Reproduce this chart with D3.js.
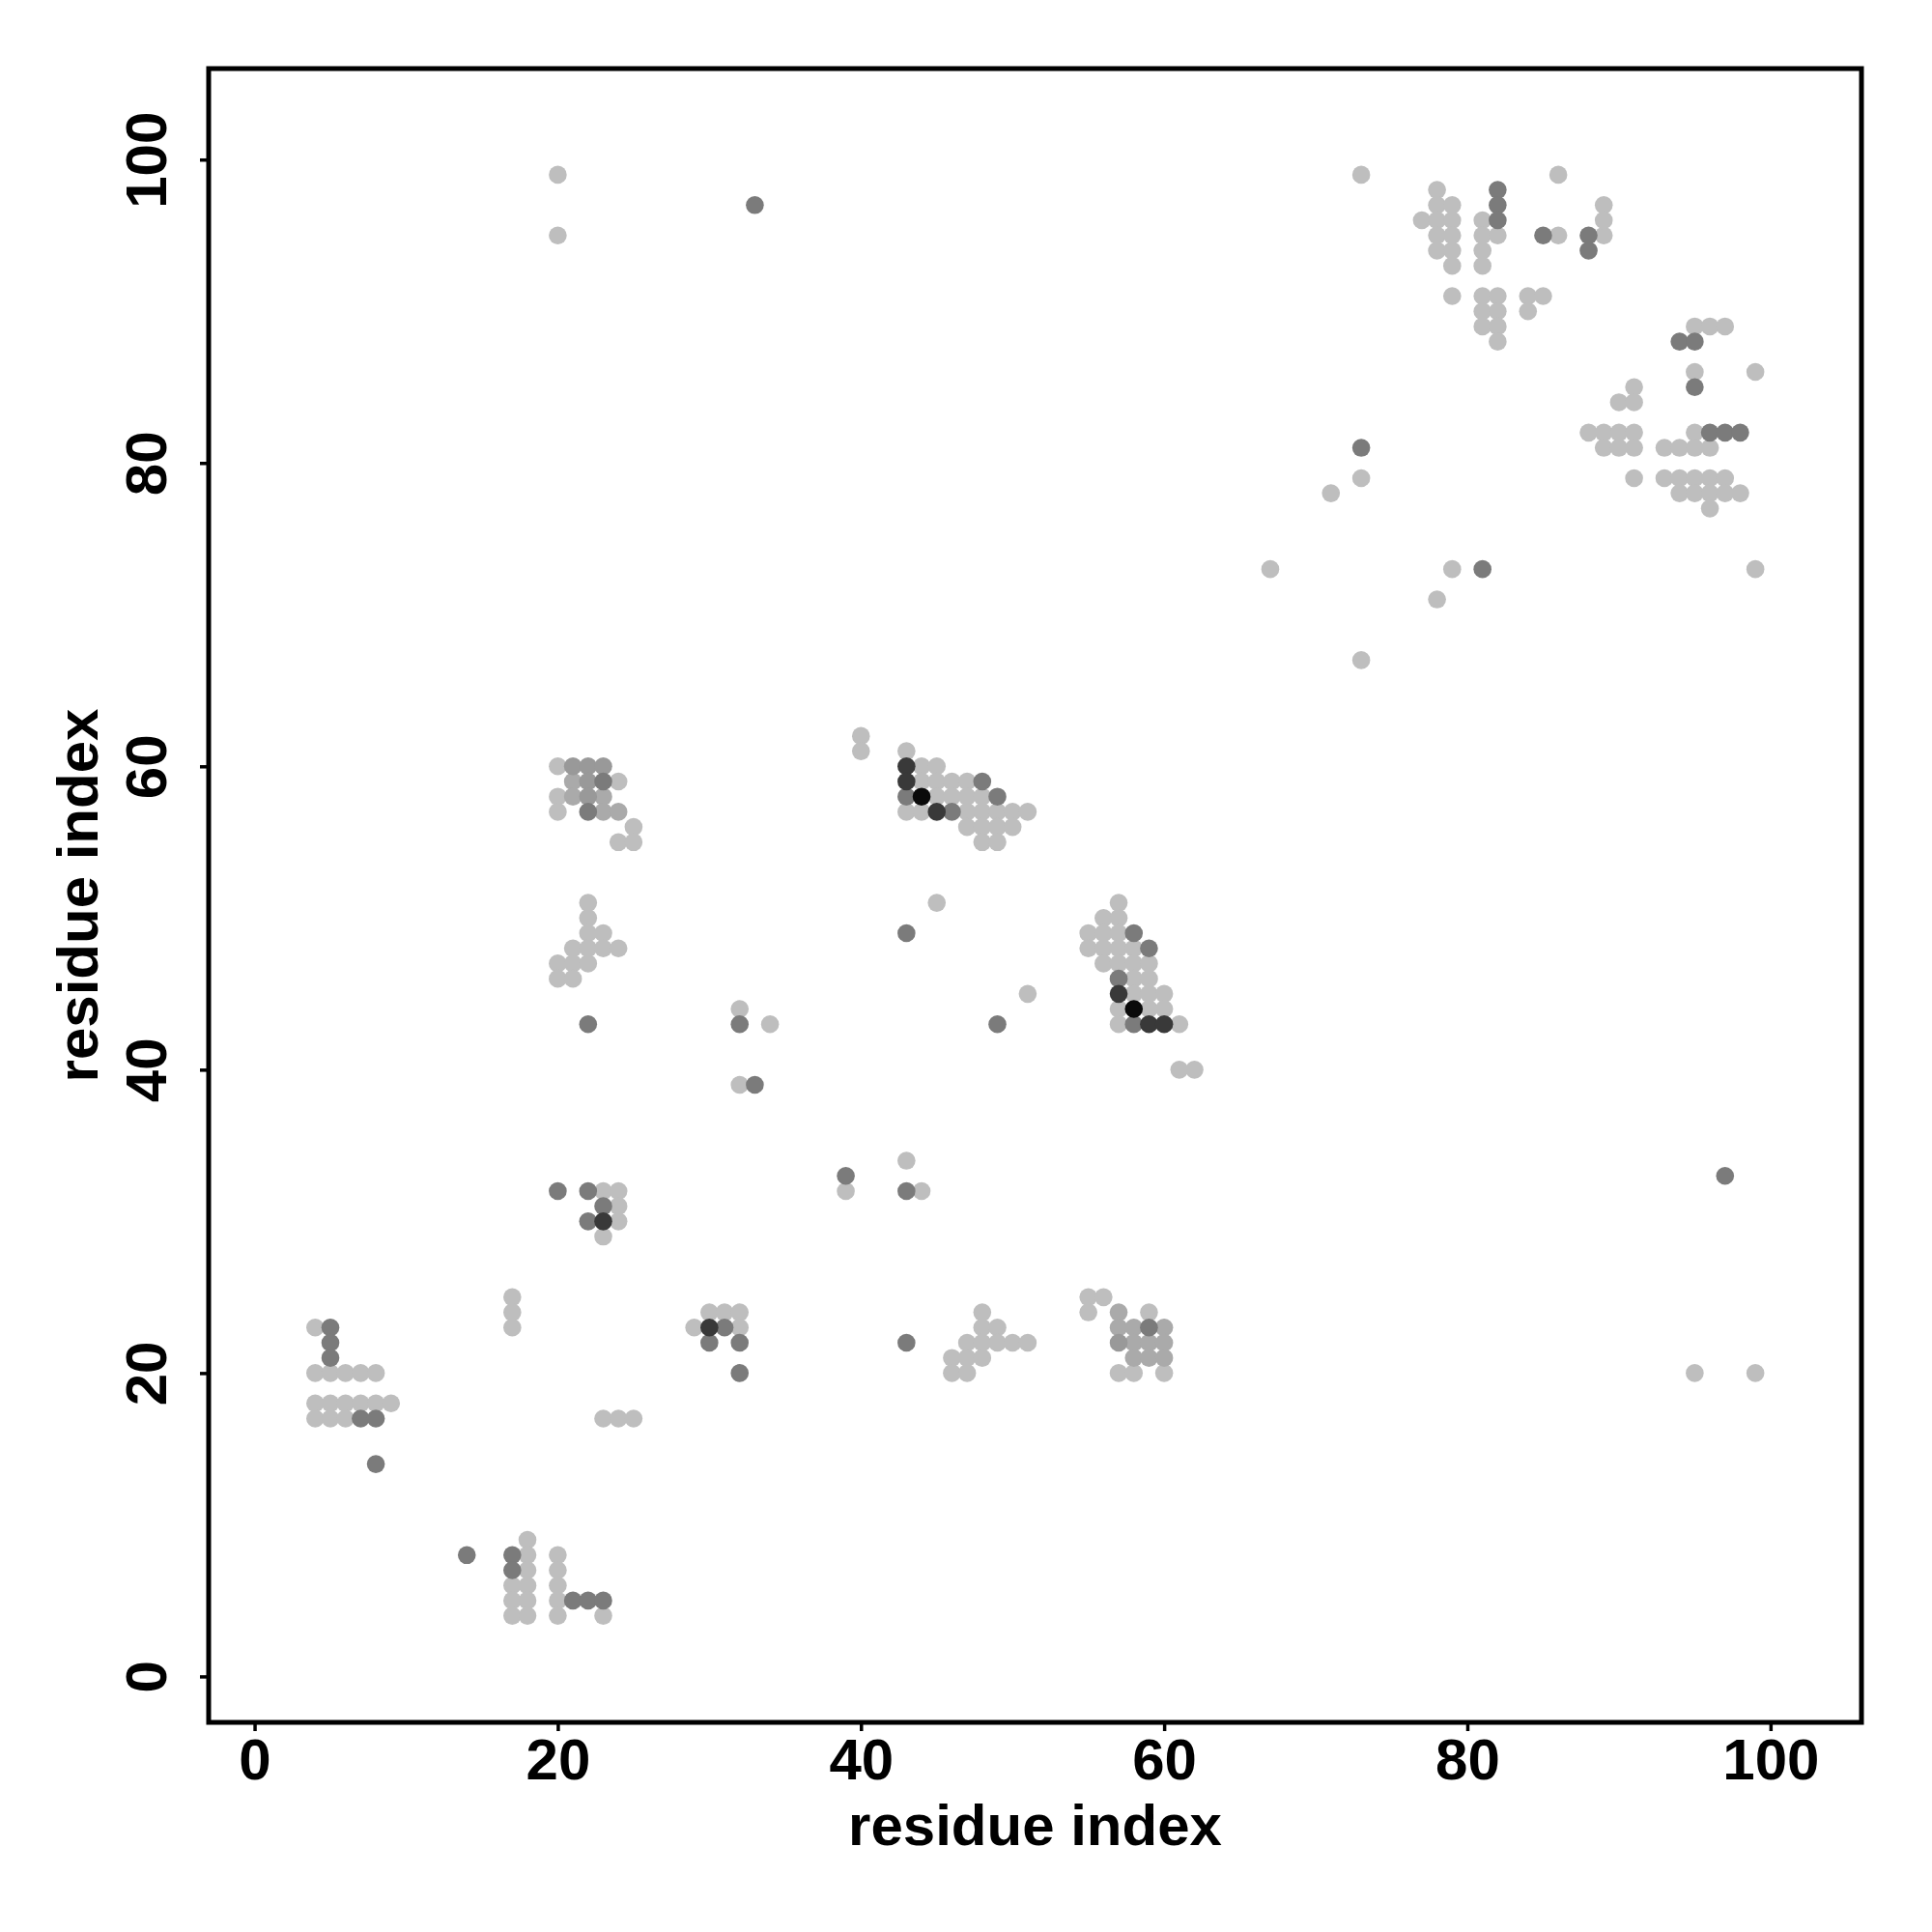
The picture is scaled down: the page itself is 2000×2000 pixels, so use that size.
<!DOCTYPE html>
<html>
<head>
<meta charset="utf-8">
<script src="https://cdn.jsdelivr.net/npm/d3@7"></script>
<style>
  html, body { margin: 0; padding: 0; background: #ffffff; }
  svg { display: block; }
  text { font-family: "Liberation Sans", Arial, Helvetica, sans-serif; font-weight: bold; fill: #000; }
</style>
</head>
<body>
<script>
// ---------------- data ----------------
const xTickValues = [0, 20, 40, 60, 80, 100];
const yTickValues = [0, 20, 40, 60, 80, 100];
const axisTitleX = "residue index";
const axisTitleY = "residue index";

// contacts [residue i, residue j], grouped by contact frequency level (1 = lowest, 6 = highest)
const contactsLevel1 = [
  [4,23],[4,20],[5,20],[6,20],[7,20],[8,20],[4,18],[5,18],[6,18],[7,18],[8,18],[9,18],[4,17],[5,17],[6,17],
  [17,25],[17,24],[17,23],[23,17],[24,17],[25,17],[17,6],[17,5],[17,4],
  [18,9],[18,8],[18,7],[18,6],[18,5],[18,4],[20,8],[20,7],[20,6],[20,5],[20,4],[23,4],
  [23,32],[24,32],[24,31],[24,30],[23,29],[30,24],[31,24],[32,24],[29,23],[32,23],
  [20,60],[24,59],[20,58],[20,57],[25,56],[24,55],[25,55],
  [22,51],[22,50],[22,49],[23,49],[21,48],[22,48],[23,48],[24,48],[20,47],[21,47],[22,47],[20,46],[21,46],
  [32,44],[34,43],[32,39],[39,32],[43,34],[44,32],
  [40,62],[40,61],[43,61],[43,57],[44,60],[45,60],[44,59],[45,59],[46,59],[47,59],[45,58],[46,58],[47,58],[48,58],
  [44,57],[47,57],[48,57],[49,57],[50,57],[51,57],[47,56],[48,56],[49,56],[50,56],[48,55],[49,55],[45,51],[51,45],
  [57,51],[56,50],[57,50],[55,49],[56,49],[57,49],[55,48],[56,48],[57,48],[58,48],[56,47],[57,47],[58,47],[59,47],
  [58,46],[59,46],[58,45],[59,45],[60,45],[57,44],[59,44],[60,44],[57,43],[61,43],[61,40],[62,40],
  [48,24],[48,23],[49,23],[47,22],[48,22],[49,22],[50,22],[51,22],[46,21],[47,21],[48,21],[46,20],[47,20],
  [55,25],[56,25],[55,24],[59,24],[57,20],[58,20],[60,20],
  [73,99],[86,99],[78,98],[78,97],[79,97],[77,96],[78,96],[79,96],[81,96],[78,95],[79,95],[81,95],[82,95],[86,95],[89,95],
  [78,94],[79,94],[81,94],[79,93],[81,93],[89,97],[89,96],[79,91],[81,91],[82,91],[84,91],[85,91],[81,90],[82,90],[84,90],
  [81,89],[82,89],[82,88],
  [95,89],[96,89],[97,89],[95,86],[99,86],[91,85],[90,84],[91,84],[88,82],[89,82],[90,82],[91,82],[95,82],
  [89,81],[90,81],[91,81],[93,81],[94,81],[95,81],[96,81],[91,79],[93,79],[94,79],[95,79],[96,79],[97,79],
  [94,78],[95,78],[96,78],[97,78],[98,78],[96,77],[99,73],
  [20,99],[20,95],[73,79],[71,78],[67,73],[78,71],[79,73],[73,67],[95,20],[99,20]
];
const contactsLevel2 = [
  [21,59],[21,58],[23,58],[23,57],[24,57],
  [57,24],[57,23],[58,23],[60,23],[58,22],[59,22],[60,22],[58,21],[59,21],[60,21]
];
const contactsLevel3 = [
  [21,60],[22,60],[23,60],[22,59],[22,58],[57,22]
];
const contactsLevel4 = [
  [5,23],[5,22],[5,21],[7,17],[8,17],[8,14],[14,8],[17,8],[17,7],[21,5],[22,5],[23,5],
  [20,32],[22,32],[23,31],[22,30],[31,23],[30,22],[32,22],[32,20],
  [23,59],[22,57],[22,43],[32,43],[33,39],[39,33],[43,32],[43,22],
  [43,58],[48,59],[49,58],[46,57],[43,49],[49,43],[58,49],[59,48],[57,46],[58,43],[59,23],
  [82,98],[82,97],[82,96],[85,95],[88,95],[88,94],[94,88],[95,88],[95,85],[96,82],[97,82],[98,82],
  [33,97],[73,81],[81,73],[97,33]
];
const contactsLevel5 = [
  [23,30],[30,23],[43,60],[43,59],[45,57],[57,45],[59,43],[60,43]
];
const contactsLevel6 = [
  [44,58],[58,44]
];
const levels = [1, 2, 3, 4, 5, 6];

// ---------------- drawing ----------------
const W = 2000, H = 2000;
const plot = { left: 216, right: 1927, top: 71, bottom: 1783 };

const svg = d3.select("body").append("svg")
  .attr("width", W).attr("height", H)
  .attr("viewBox", `0 0 ${W} ${H}`);

svg.append("rect").attr("x", 0).attr("y", 0).attr("width", W).attr("height", H).attr("fill", "#ffffff");

const x = d3.scaleLinear().domain([-3.03, 106]).range([plot.left, plot.right]);
const y = d3.scaleLinear().domain([-3.03, 106]).range([plot.bottom, plot.top]);

const shade = d3.scaleOrdinal()
  .domain(levels)
  .range(["#bebebe", "#aaaaaa", "#999999", "#7b7b7b", "#393939", "#0a0a0a"]);

const allContacts = [contactsLevel1, contactsLevel2, contactsLevel3, contactsLevel4, contactsLevel5, contactsLevel6]
  .flatMap((arr, k) => arr.map(d => ({ i: d[0], j: d[1], level: levels[k] })));

svg.append("g").selectAll("circle")
  .data(allContacts)
  .join("circle")
  .attr("cx", d => x(d.i))
  .attr("cy", d => y(d.j))
  .attr("r", 9.3)
  .attr("fill", d => shade(d.level));

// x axis
const xAxis = svg.append("g")
  .attr("transform", `translate(0,${plot.bottom})`)
  .call(d3.axisBottom(x).tickValues(xTickValues).tickSize(9).tickFormat(d3.format("d")));
xAxis.select(".domain").remove();
xAxis.selectAll(".tick line").attr("stroke", "#000").attr("stroke-width", 3.5);
xAxis.selectAll(".tick text")
  .attr("y", 59).attr("dy", 0)
  .attr("font-size", 60)
  .style("font-family", '"Liberation Sans", Arial, sans-serif')
  .style("font-weight", "bold")
  .attr("fill", "#000");

// y axis
const yAxis = svg.append("g")
  .attr("transform", `translate(${plot.left},0)`)
  .call(d3.axisLeft(y).tickValues(yTickValues).tickSize(9).tickFormat(d3.format("d")));
yAxis.select(".domain").remove();
yAxis.selectAll(".tick line").attr("stroke", "#000").attr("stroke-width", 3.5);
yAxis.selectAll(".tick text")
  .attr("x", 0).attr("y", 0).attr("dy", 0)
  .attr("text-anchor", "middle")
  .attr("transform", "translate(-44,0) rotate(-90)")
  .attr("font-size", 60)
  .style("font-family", '"Liberation Sans", Arial, sans-serif')
  .style("font-weight", "bold")
  .attr("fill", "#000");

// frame
svg.append("rect")
  .attr("x", plot.left).attr("y", plot.top)
  .attr("width", plot.right - plot.left).attr("height", plot.bottom - plot.top)
  .attr("fill", "none").attr("stroke", "#000").attr("stroke-width", 5);

// axis titles
svg.append("text")
  .attr("x", (plot.left + plot.right) / 2).attr("y", 1910)
  .attr("text-anchor", "middle").attr("font-size", 60)
  .text(axisTitleX);

svg.append("text")
  .attr("transform", `translate(101,${(plot.top + plot.bottom) / 2}) rotate(-90)`)
  .attr("text-anchor", "middle").attr("font-size", 60)
  .text(axisTitleY);
</script>
</body>
</html>
